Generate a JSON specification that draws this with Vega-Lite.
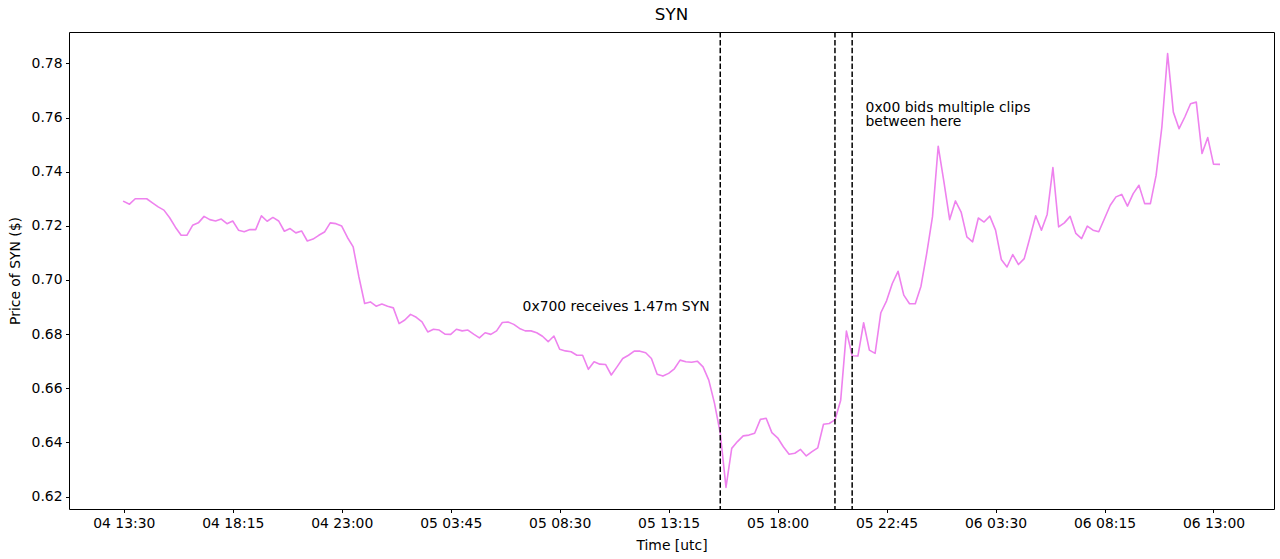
{
  "$schema": "https://vega.github.io/schema/vega-lite/v6.json",
  "width": 1205,
  "height": 477,
  "autosize": {"type": "none"},
  "padding": {"left": 69, "top": 32, "right": 6, "bottom": 51},
  "background": "white",
  "title": {"text": "SYN", "fontSize": 16.7, "fontWeight": "normal", "font": "DejaVu Sans", "color": "#000", "anchor": "middle", "offset": 8},
  "config": {
    "view": {"stroke": "#000", "strokeWidth": 1},
    "axis": {"grid": false, "domain": false, "tickColor": "#000", "tickSize": 3.5, "tickWidth": 1, "labelFont": "DejaVu Sans", "labelFontSize": 13.9, "labelColor": "#000", "labelPadding": 3.5, "titleFont": "DejaVu Sans", "titleFontSize": 13.9, "titleFontWeight": "normal", "titleColor": "#000"}
  },
  "layer": [
    {
      "data": {"values": [
        {"t":"2023-05-04T13:30:00Z","p":0.729},{"t":"2023-05-04T13:45:00Z","p":0.728},{"t":"2023-05-04T14:00:00Z","p":0.730},{"t":"2023-05-04T14:15:00Z","p":0.730},
        {"t":"2023-05-04T14:30:00Z","p":0.730},{"t":"2023-05-04T14:45:00Z","p":0.7285},{"t":"2023-05-04T15:00:00Z","p":0.727},{"t":"2023-05-04T15:15:00Z","p":0.7258},
        {"t":"2023-05-04T15:30:00Z","p":0.723},{"t":"2023-05-04T15:45:00Z","p":0.7195},{"t":"2023-05-04T16:00:00Z","p":0.7165},{"t":"2023-05-04T16:15:00Z","p":0.7165},
        {"t":"2023-05-04T16:30:00Z","p":0.7202},{"t":"2023-05-04T16:45:00Z","p":0.7211},{"t":"2023-05-04T17:00:00Z","p":0.7235},{"t":"2023-05-04T17:15:00Z","p":0.7223},
        {"t":"2023-05-04T17:30:00Z","p":0.7218},{"t":"2023-05-04T17:45:00Z","p":0.7225},{"t":"2023-05-04T18:00:00Z","p":0.7208},{"t":"2023-05-04T18:15:00Z","p":0.7218},
        {"t":"2023-05-04T18:30:00Z","p":0.7184},{"t":"2023-05-04T18:45:00Z","p":0.7178},{"t":"2023-05-04T19:00:00Z","p":0.7186},{"t":"2023-05-04T19:15:00Z","p":0.7186},
        {"t":"2023-05-04T19:30:00Z","p":0.7237},{"t":"2023-05-04T19:45:00Z","p":0.7217},{"t":"2023-05-04T20:00:00Z","p":0.7231},{"t":"2023-05-04T20:15:00Z","p":0.7218},
        {"t":"2023-05-04T20:30:00Z","p":0.7180},{"t":"2023-05-04T20:45:00Z","p":0.7190},{"t":"2023-05-04T21:00:00Z","p":0.7174},{"t":"2023-05-04T21:15:00Z","p":0.7181},
        {"t":"2023-05-04T21:30:00Z","p":0.7144},{"t":"2023-05-04T21:45:00Z","p":0.7151},{"t":"2023-05-04T22:00:00Z","p":0.7165},{"t":"2023-05-04T22:15:00Z","p":0.7177},
        {"t":"2023-05-04T22:30:00Z","p":0.7211},{"t":"2023-05-04T22:45:00Z","p":0.7208},{"t":"2023-05-04T23:00:00Z","p":0.7199},{"t":"2023-05-04T23:15:00Z","p":0.7157},
        {"t":"2023-05-04T23:30:00Z","p":0.7122},{"t":"2023-05-04T23:45:00Z","p":0.7011},{"t":"2023-05-05T00:00:00Z","p":0.6913},{"t":"2023-05-05T00:15:00Z","p":0.6919},
        {"t":"2023-05-05T00:30:00Z","p":0.6903},{"t":"2023-05-05T00:45:00Z","p":0.6911},{"t":"2023-05-05T01:00:00Z","p":0.6903},{"t":"2023-05-05T01:15:00Z","p":0.6897},
        {"t":"2023-05-05T01:30:00Z","p":0.6839},{"t":"2023-05-05T01:45:00Z","p":0.6852},{"t":"2023-05-05T02:00:00Z","p":0.6873},{"t":"2023-05-05T02:15:00Z","p":0.6862},
        {"t":"2023-05-05T02:30:00Z","p":0.6845},{"t":"2023-05-05T02:45:00Z","p":0.6808},{"t":"2023-05-05T03:00:00Z","p":0.6818},{"t":"2023-05-05T03:15:00Z","p":0.6815},
        {"t":"2023-05-05T03:30:00Z","p":0.6800},{"t":"2023-05-05T03:45:00Z","p":0.6799},{"t":"2023-05-05T04:00:00Z","p":0.6818},{"t":"2023-05-05T04:15:00Z","p":0.6812},
        {"t":"2023-05-05T04:30:00Z","p":0.6815},{"t":"2023-05-05T04:45:00Z","p":0.6800},{"t":"2023-05-05T05:00:00Z","p":0.6786},{"t":"2023-05-05T05:15:00Z","p":0.6805},
        {"t":"2023-05-05T05:30:00Z","p":0.6799},{"t":"2023-05-05T05:45:00Z","p":0.6812},{"t":"2023-05-05T06:00:00Z","p":0.6843},{"t":"2023-05-05T06:15:00Z","p":0.6845},
        {"t":"2023-05-05T06:30:00Z","p":0.6836},{"t":"2023-05-05T06:45:00Z","p":0.6821},{"t":"2023-05-05T07:00:00Z","p":0.6812},{"t":"2023-05-05T07:15:00Z","p":0.6812},
        {"t":"2023-05-05T07:30:00Z","p":0.6805},{"t":"2023-05-05T07:45:00Z","p":0.6792},{"t":"2023-05-05T08:00:00Z","p":0.6772},{"t":"2023-05-05T08:15:00Z","p":0.6793},
        {"t":"2023-05-05T08:30:00Z","p":0.6744},{"t":"2023-05-05T08:45:00Z","p":0.6738},{"t":"2023-05-05T09:00:00Z","p":0.6735},{"t":"2023-05-05T09:15:00Z","p":0.6722},
        {"t":"2023-05-05T09:30:00Z","p":0.6722},{"t":"2023-05-05T09:45:00Z","p":0.6670},{"t":"2023-05-05T10:00:00Z","p":0.6698},{"t":"2023-05-05T10:15:00Z","p":0.6689},
        {"t":"2023-05-05T10:30:00Z","p":0.6688},{"t":"2023-05-05T10:45:00Z","p":0.6649},{"t":"2023-05-05T11:00:00Z","p":0.6679},{"t":"2023-05-05T11:15:00Z","p":0.6710},
        {"t":"2023-05-05T11:30:00Z","p":0.6722},{"t":"2023-05-05T11:45:00Z","p":0.6737},{"t":"2023-05-05T12:00:00Z","p":0.6737},{"t":"2023-05-05T12:15:00Z","p":0.6731},
        {"t":"2023-05-05T12:30:00Z","p":0.6710},{"t":"2023-05-05T12:45:00Z","p":0.6652},{"t":"2023-05-05T13:00:00Z","p":0.6645},{"t":"2023-05-05T13:15:00Z","p":0.6655},
        {"t":"2023-05-05T13:30:00Z","p":0.6672},{"t":"2023-05-05T13:45:00Z","p":0.6704},{"t":"2023-05-05T14:00:00Z","p":0.6698},{"t":"2023-05-05T14:15:00Z","p":0.6696},
        {"t":"2023-05-05T14:30:00Z","p":0.6700},{"t":"2023-05-05T14:45:00Z","p":0.6679},{"t":"2023-05-05T15:00:00Z","p":0.6630},{"t":"2023-05-05T15:15:00Z","p":0.6544},
        {"t":"2023-05-05T15:30:00Z","p":0.6434},{"t":"2023-05-05T15:45:00Z","p":0.6234},{"t":"2023-05-05T16:00:00Z","p":0.6378},{"t":"2023-05-05T16:15:00Z","p":0.6403},
        {"t":"2023-05-05T16:30:00Z","p":0.6424},{"t":"2023-05-05T16:45:00Z","p":0.6427},{"t":"2023-05-05T17:00:00Z","p":0.6434},{"t":"2023-05-05T17:15:00Z","p":0.6485},
        {"t":"2023-05-05T17:30:00Z","p":0.6489},{"t":"2023-05-05T17:45:00Z","p":0.6436},{"t":"2023-05-05T18:00:00Z","p":0.6417},{"t":"2023-05-05T18:15:00Z","p":0.6384},
        {"t":"2023-05-05T18:30:00Z","p":0.6356},{"t":"2023-05-05T18:45:00Z","p":0.6360},{"t":"2023-05-05T19:00:00Z","p":0.6374},{"t":"2023-05-05T19:15:00Z","p":0.6350},
        {"t":"2023-05-05T19:30:00Z","p":0.6366},{"t":"2023-05-05T19:45:00Z","p":0.6380},{"t":"2023-05-05T20:00:00Z","p":0.6467},{"t":"2023-05-05T20:15:00Z","p":0.6470},
        {"t":"2023-05-05T20:30:00Z","p":0.6483},{"t":"2023-05-05T20:45:00Z","p":0.6556},{"t":"2023-05-05T21:00:00Z","p":0.6811},{"t":"2023-05-05T21:15:00Z","p":0.6720},
        {"t":"2023-05-05T21:30:00Z","p":0.6719},{"t":"2023-05-05T21:45:00Z","p":0.6842},{"t":"2023-05-05T22:00:00Z","p":0.6741},{"t":"2023-05-05T22:15:00Z","p":0.6729},
        {"t":"2023-05-05T22:30:00Z","p":0.6879},{"t":"2023-05-05T22:45:00Z","p":0.6923},{"t":"2023-05-05T23:00:00Z","p":0.6987},{"t":"2023-05-05T23:15:00Z","p":0.7032},
        {"t":"2023-05-05T23:30:00Z","p":0.6944},{"t":"2023-05-05T23:45:00Z","p":0.6912},{"t":"2023-05-06T00:00:00Z","p":0.6912},{"t":"2023-05-06T00:15:00Z","p":0.6977},
        {"t":"2023-05-06T00:30:00Z","p":0.7098},{"t":"2023-05-06T00:45:00Z","p":0.7233},{"t":"2023-05-06T01:00:00Z","p":0.7494},{"t":"2023-05-06T01:15:00Z","p":0.7362},
        {"t":"2023-05-06T01:30:00Z","p":0.7223},{"t":"2023-05-06T01:45:00Z","p":0.7292},{"t":"2023-05-06T02:00:00Z","p":0.7251},{"t":"2023-05-06T02:15:00Z","p":0.7159},
        {"t":"2023-05-06T02:30:00Z","p":0.7141},{"t":"2023-05-06T02:45:00Z","p":0.7229},{"t":"2023-05-06T03:00:00Z","p":0.7214},{"t":"2023-05-06T03:15:00Z","p":0.7236},
        {"t":"2023-05-06T03:30:00Z","p":0.7184},{"t":"2023-05-06T03:45:00Z","p":0.7076},{"t":"2023-05-06T04:00:00Z","p":0.7048},{"t":"2023-05-06T04:15:00Z","p":0.7094},
        {"t":"2023-05-06T04:30:00Z","p":0.7057},{"t":"2023-05-06T04:45:00Z","p":0.7079},{"t":"2023-05-06T05:00:00Z","p":0.7157},{"t":"2023-05-06T05:15:00Z","p":0.7237},
        {"t":"2023-05-06T05:30:00Z","p":0.7184},{"t":"2023-05-06T05:45:00Z","p":0.7242},{"t":"2023-05-06T06:00:00Z","p":0.7415},{"t":"2023-05-06T06:15:00Z","p":0.7196},
        {"t":"2023-05-06T06:30:00Z","p":0.7211},{"t":"2023-05-06T06:45:00Z","p":0.7235},{"t":"2023-05-06T07:00:00Z","p":0.7172},{"t":"2023-05-06T07:15:00Z","p":0.7153},
        {"t":"2023-05-06T07:30:00Z","p":0.7199},{"t":"2023-05-06T07:45:00Z","p":0.7184},{"t":"2023-05-06T08:00:00Z","p":0.7178},{"t":"2023-05-06T08:15:00Z","p":0.7227},
        {"t":"2023-05-06T08:30:00Z","p":0.7276},{"t":"2023-05-06T08:45:00Z","p":0.7307},{"t":"2023-05-06T09:00:00Z","p":0.7316},{"t":"2023-05-06T09:15:00Z","p":0.7273},
        {"t":"2023-05-06T09:30:00Z","p":0.7319},{"t":"2023-05-06T09:45:00Z","p":0.7350},{"t":"2023-05-06T10:00:00Z","p":0.7282},{"t":"2023-05-06T10:15:00Z","p":0.7282},
        {"t":"2023-05-06T10:30:00Z","p":0.7387},{"t":"2023-05-06T10:45:00Z","p":0.7565},{"t":"2023-05-06T11:00:00Z","p":0.7836},{"t":"2023-05-06T11:15:00Z","p":0.7620},
        {"t":"2023-05-06T11:30:00Z","p":0.7559},{"t":"2023-05-06T11:45:00Z","p":0.7602},{"t":"2023-05-06T12:00:00Z","p":0.7651},{"t":"2023-05-06T12:15:00Z","p":0.7657},
        {"t":"2023-05-06T12:30:00Z","p":0.7467},{"t":"2023-05-06T12:45:00Z","p":0.7526},{"t":"2023-05-06T13:00:00Z","p":0.7428},{"t":"2023-05-06T13:15:00Z","p":0.7427}
      ]},
      "mark": {"type": "line", "color": "violet", "strokeWidth": 1.6, "strokeJoin": "round", "strokeCap": "square"},
      "encoding": {
        "x": {"field": "t", "type": "temporal", "title": "Time [utc]",
          "scale": {"type": "utc", "domain": [{"year": 2023, "month": 5, "date": 4, "hours": 11, "minutes": 6, "seconds": 45, "utc": true}, {"year": 2023, "month": 5, "date": 6, "hours": 15, "minutes": 38, "seconds": 15, "utc": true}]},
          "axis": {"labelExpr": "utcFormat(datum.value, '%d %H:%M')", "labelFlush": false, "labelOverlap": false, "titlePadding": 9,
            "values": [
              {"year": 2023, "month": 5, "date": 4, "hours": 13, "minutes": 30, "utc": true},
              {"year": 2023, "month": 5, "date": 4, "hours": 18, "minutes": 15, "utc": true},
              {"year": 2023, "month": 5, "date": 4, "hours": 23, "minutes": 0, "utc": true},
              {"year": 2023, "month": 5, "date": 5, "hours": 3, "minutes": 45, "utc": true},
              {"year": 2023, "month": 5, "date": 5, "hours": 8, "minutes": 30, "utc": true},
              {"year": 2023, "month": 5, "date": 5, "hours": 13, "minutes": 15, "utc": true},
              {"year": 2023, "month": 5, "date": 5, "hours": 18, "minutes": 0, "utc": true},
              {"year": 2023, "month": 5, "date": 5, "hours": 22, "minutes": 45, "utc": true},
              {"year": 2023, "month": 5, "date": 6, "hours": 3, "minutes": 30, "utc": true},
              {"year": 2023, "month": 5, "date": 6, "hours": 8, "minutes": 15, "utc": true},
              {"year": 2023, "month": 5, "date": 6, "hours": 13, "minutes": 0, "utc": true}
            ]}},
        "y": {"field": "p", "type": "quantitative", "title": "Price of SYN ($)",
          "scale": {"domain": [0.6154, 0.7916], "zero": false, "nice": false},
          "axis": {"values": [0.62, 0.64, 0.66, 0.68, 0.70, 0.72, 0.74, 0.76, 0.78], "format": ".2f", "titlePadding": 9}}
      }
    },
    {
      "data": {"values": [
        {"event": "0x700 receives", "t": "2023-05-05T15:30:00Z"},
        {"event": "clips start", "t": "2023-05-05T20:30:00Z"},
        {"event": "clips end", "t": "2023-05-05T21:15:00Z"}
      ]},
      "mark": {"type": "rule", "color": "#000", "strokeWidth": 1.5, "strokeDash": [5.5, 2.4]},
      "encoding": {"x": {"field": "t", "type": "temporal"}}
    },
    {
      "data": {"values": [{"label": "0x700 receives 1.47m SYN", "t": "2023-05-05T15:02:00Z", "p": 0.6885}]},
      "mark": {"type": "text", "align": "right", "baseline": "alphabetic", "font": "DejaVu Sans", "fontSize": 13.9, "color": "#000"},
      "encoding": {"x": {"field": "t", "type": "temporal"}, "y": {"field": "p", "type": "quantitative"}, "text": {"field": "label"}}
    },
    {
      "data": {"values": [{"t": "2023-05-05T21:50:00Z", "p": 0.762}]},
      "mark": {"type": "text", "text": ["0x00 bids multiple clips", "between here"], "align": "left", "baseline": "alphabetic", "lineHeight": 14, "font": "DejaVu Sans", "fontSize": 13.9, "color": "#000"},
      "encoding": {"x": {"field": "t", "type": "temporal"}, "y": {"field": "p", "type": "quantitative"}}
    }
  ]
}
